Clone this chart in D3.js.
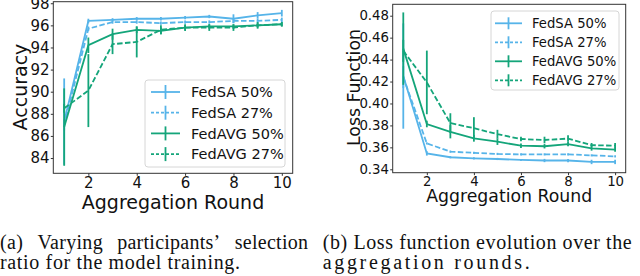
<!DOCTYPE html>
<html>
<head>
<meta charset="utf-8">
<script src="https://cdn.jsdelivr.net/npm/d3@7"></script>
<style>
  body { margin: 0; background: #fff; }
  svg { display: block; }
</style>
</head>
<body>
<div id="chart-container"></div>
<script>
const rounds = [1, 2, 3, 4, 5, 6, 7, 8, 9, 10];
const seriesNames = ["FedSA 50%", "FedSA 27%", "FedAVG 50%", "FedAVG 27%"];

// accuracy (left panel)
const accFedSA50 = [87.3, 96.4, 96.5, 96.6, 96.6, 96.7, 96.8, 96.6, 96.9, 97.1];
const accFedSA50Err = [3.9, 0.2, 0.15, 0.15, 0.15, 0.15, 0.15, 0.4, 0.3, 0.3];
const accFedSA27 = [87.0, 95.7, 96.3, 96.3, 96.2, 96.3, 96.3, 96.4, 96.4, 96.5];
const accFedSA27Err = [0.5, 0.2, 0.15, 0.15, 0.15, 0.15, 0.15, 0.2, 0.2, 0.2];
const accFedAVG50 = [86.8, 94.2, 95.2, 95.6, 95.5, 95.8, 95.9, 95.9, 96.0, 96.1];
const accFedAVG50Err = [3.5, 0.7, 0.5, 0.3, 0.3, 0.2, 0.2, 0.2, 0.2, 0.2];
const accFedAVG27 = [88.5, 90.1, 94.3, 94.5, 95.6, 95.8, 95.8, 95.8, 96.0, 96.1];
const accFedAVG27Err = [0.4, 3.3, 0.9, 1.4, 0.4, 0.3, 0.3, 0.3, 0.3, 0.2];
const accTicks = [84, 86, 88, 90, 92, 94, 96, 98];

// loss (right panel)
const lossFedSA50 = [0.425, 0.3545, 0.351, 0.350, 0.3494, 0.3485, 0.348, 0.348, 0.3467, 0.3467];
const lossFedSA50Err = [0.048, 0.002, 0.001, 0.001, 0.001, 0.001, 0.0015, 0.0015, 0.002, 0.002];
const lossFedSA27 = [0.424, 0.3636, 0.3561, 0.355, 0.354, 0.3536, 0.3536, 0.3536, 0.3527, 0.3518];
const lossFedSA27Err = [0.01, 0.001, 0.001, 0.001, 0.001, 0.001, 0.001, 0.001, 0.001, 0.001];
const lossFedAVG50 = [0.450, 0.3813, 0.3742, 0.3682, 0.3652, 0.3615, 0.361, 0.363, 0.359, 0.358];
const lossFedAVG50Err = [0.033, 0.003, 0.006, 0.003, 0.003, 0.002, 0.002, 0.002, 0.002, 0.002];
const lossFedAVG27 = [0.448, 0.4192, 0.3821, 0.3775, 0.372, 0.3676, 0.3667, 0.368, 0.362, 0.3615];
const lossFedAVG27Err = [0.01, 0.029, 0.009, 0.010, 0.004, 0.002, 0.003, 0.003, 0.002, 0.0025];
const lossTicks = [0.34, 0.36, 0.38, 0.40, 0.42, 0.44, 0.46, 0.48];

const xTicks = [2, 4, 6, 8, 10];

const blue = "#56B4E9";
const green = "#14A57A";
const styles = [
  { color: blue, dash: null },
  { color: blue, dash: "5.5,2.4" },
  { color: green, dash: null },
  { color: green, dash: "5.5,2.4" }
];

const svg = d3.select("#chart-container")
  .append("svg")
  .attr("width", 640)
  .attr("height", 276);

function drawPanel(p) {
  const x = d3.scaleLinear().domain([0.55, 10.45]).range([p.left, p.right]);
  const y = d3.scaleLinear().domain(p.yDomain).range([p.bottom, p.top]);
  const g = svg.append("g").style("font-family", "DejaVu Sans, sans-serif").attr("fill", "#111");

  const line = d3.line().x((d) => x(d.r)).y((d) => y(d.v));

  p.series.forEach((s, i) => {
    const pts = rounds.map((r, k) => ({ r: r, v: s.vals[k], e: s.errs[k] }));
    const st = styles[i];
    g.append("path")
      .datum(pts)
      .attr("d", line)
      .attr("fill", "none")
      .attr("stroke", st.color)
      .attr("stroke-width", 1.8)
      .attr("stroke-dasharray", st.dash);
    g.selectAll(".err" + i)
      .data(pts)
      .enter()
      .append("line")
      .attr("x1", (d) => x(d.r))
      .attr("x2", (d) => x(d.r))
      .attr("y1", (d) => y(d.v - d.e))
      .attr("y2", (d) => y(d.v + d.e))
      .attr("stroke", st.color)
      .attr("stroke-width", 1.8);
  });

  // frame
  g.append("rect")
    .attr("x", p.left)
    .attr("y", p.top)
    .attr("width", p.right - p.left)
    .attr("height", p.bottom - p.top)
    .attr("fill", "none")
    .attr("stroke", "#333")
    .attr("stroke-width", 1);

  const xAxis = g.append("g")
    .attr("transform", "translate(0," + p.bottom + ")")
    .call(d3.axisBottom(x).tickValues(xTicks).tickSize(2.5).tickPadding(1.5).tickFormat(d3.format("d")));
  const yAxis = g.append("g")
    .attr("transform", "translate(" + p.left + ",0)")
    .call(d3.axisLeft(y).tickValues(p.yTicks).tickSize(2.5).tickPadding(1.2).tickFormat(p.fmt));
  [xAxis, yAxis].forEach((a) => {
    a.select(".domain").remove();
    a.selectAll("text").style("font-size", p.tickFont + "px").attr("fill", "#111").style("font-family", "DejaVu Sans, sans-serif");
    a.selectAll("line").attr("stroke", "#333");
  });

  g.append("text")
    .attr("x", (p.left + p.right) / 2)
    .attr("y", p.xLabelY)
    .attr("text-anchor", "middle")
    .style("font-size", p.labelFont + "px")
    .text("Aggregation Round");

  g.append("text")
    .attr("transform", "translate(" + p.yLabelX + "," + p.yLabelMid + ") rotate(-90)")
    .attr("text-anchor", "middle")
    .style("font-size", p.labelFont + "px")
    .text(p.yLabel);

  // legend
  const L = p.legend;
  g.append("rect")
    .attr("x", L.x)
    .attr("y", L.y)
    .attr("width", L.w)
    .attr("height", L.h)
    .attr("rx", 3)
    .attr("fill", "#fff")
    .attr("fill-opacity", 0.8)
    .attr("stroke", "#d6d6d6");
  seriesNames.forEach((name, i) => {
    const cy = L.y + L.first + i * L.step;
    const st = styles[i];
    g.append("line")
      .attr("x1", L.x + L.lineX0)
      .attr("x2", L.x + L.lineX1)
      .attr("y1", cy)
      .attr("y2", cy)
      .attr("stroke", st.color)
      .attr("stroke-width", 1.8)
      .attr("stroke-dasharray", st.dash ? "3,2" : null);
    const mx = L.x + (L.lineX0 + L.lineX1) / 2;
    g.append("line")
      .attr("x1", mx)
      .attr("x2", mx)
      .attr("y1", cy - L.bar / 2)
      .attr("y2", cy + L.bar / 2)
      .attr("stroke", st.color)
      .attr("stroke-width", 1.8);
    g.append("text")
      .attr("x", L.x + L.textX)
      .attr("y", cy)
      .attr("dy", "0.36em")
      .style("font-size", L.font + "px")
      .text(name);
  });
}

drawPanel({
  left: 53.3, right: 292.7, top: 1.7, bottom: 173.3,
  yDomain: [82.62, 98.14], yTicks: accTicks, fmt: d3.format("d"),
  tickFont: 15, labelFont: 19, xLabelY: 209, yLabelX: 27, yLabelMid: 87,
  yLabel: "Accuracy",
  series: [
    { vals: accFedSA50, errs: accFedSA50Err },
    { vals: accFedSA27, errs: accFedSA27Err },
    { vals: accFedAVG50, errs: accFedAVG50Err },
    { vals: accFedAVG27, errs: accFedAVG27Err }
  ],
  legend: { x: 145, y: 80, w: 140, h: 87, first: 12, step: 20.7, lineX0: 6, lineX1: 35, textX: 46, bar: 14, font: 14.5 }
});

drawPanel({
  left: 392.7, right: 625.7, top: 4.3, bottom: 172.7,
  yDomain: [0.3369, 0.4904], yTicks: lossTicks, fmt: d3.format(".2f"),
  tickFont: 13.3, labelFont: 17.3, xLabelY: 201.5, yLabelX: 359.5, yLabelMid: 87.5,
  yLabel: "Loss Function",
  series: [
    { vals: lossFedSA50, errs: lossFedSA50Err },
    { vals: lossFedSA27, errs: lossFedSA27Err },
    { vals: lossFedAVG50, errs: lossFedAVG50Err },
    { vals: lossFedAVG27, errs: lossFedAVG27Err }
  ],
  legend: { x: 491, y: 11, w: 128, h: 79, first: 12.3, step: 19, lineX0: 4, lineX1: 31, textX: 41, bar: 12, font: 13.2 }
});

// captions
const capLines = [
  { text: "(a) Varying participants’ selection", x: 0, y: 248.5, w: 308, justify: true },
  { text: "ratio for the model training.", x: 0, y: 268.5, w: 240, justify: false },
  { text: "(b) Loss function evolution over the", x: 322.7, y: 248.5, w: 309, justify: false },
  { text: "aggregation rounds.", x: 322.7, y: 268.5, w: 207, justify: false }
];
const cap = svg.append("g")
  .style("font-family", "Liberation Serif, Times New Roman, serif")
  .style("font-size", "20px")
  .attr("fill", "#111");
capLines.forEach((c) => {
  if (!c.justify) {
    cap.append("text")
      .attr("x", c.x)
      .attr("y", c.y)
      .attr("textLength", c.w)
      .attr("lengthAdjust", "spacing")
      .text(c.text);
    return;
  }
  const words = c.text.split(" ");
  const nodes = words.map((w) => cap.append("text").attr("y", c.y).text(w));
  const widths = nodes.map((n) => n.node().getComputedTextLength() * 1.03);
  const gap = (c.w - d3.sum(widths)) / (words.length - 1);
  let cx = c.x;
  nodes.forEach((n, i) => {
    n.attr("x", cx).attr("textLength", widths[i]).attr("lengthAdjust", "spacing");
    cx += widths[i] + gap;
  });
});
</script>
</body>
</html>
